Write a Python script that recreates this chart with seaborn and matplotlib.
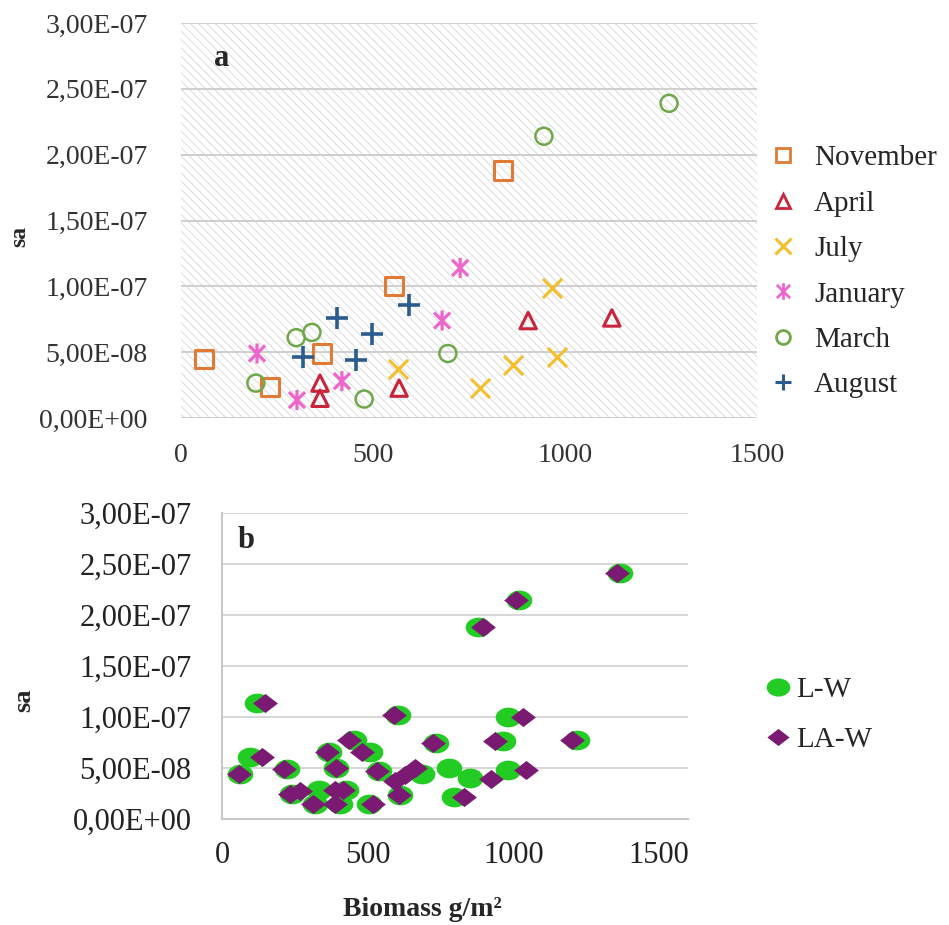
import numpy as np
import pandas as pd
import matplotlib
matplotlib.use("Agg")
import matplotlib.pyplot as plt
import seaborn as sns
from matplotlib.path import Path
from matplotlib.lines import Line2D
from matplotlib.patches import Rectangle
from matplotlib.transforms import Affine2D

# ---------------- data: panel a ----------------
months = ["November", "April", "July", "January", "March", "August"]
nov_x = [60, 232, 367, 555, 839]
nov_y = [4.47e-8, 2.35e-8, 4.9e-8, 1.0e-7, 1.88e-7]
apr_x = [362, 362, 568, 904, 1122]
apr_y = [2.65e-8, 1.5e-8, 2.27e-8, 7.4e-8, 7.6e-8]
jul_x = [565, 779, 865, 966, 979]
jul_y = [3.7e-8, 2.27e-8, 4.0e-8, 9.85e-8, 4.6e-8]
jan_x = [198, 302, 419, 680, 727]
jan_y = [4.9e-8, 1.36e-8, 2.8e-8, 7.4e-8, 1.14e-7]
mar_x = [195, 300, 341, 477, 695, 945, 1271]
mar_y = [2.65e-8, 6.1e-8, 6.5e-8, 1.44e-8, 4.9e-8, 2.14e-7, 2.39e-7]
aug_x = [318, 406, 456, 497, 594]
aug_y = [4.6e-8, 7.6e-8, 4.4e-8, 6.4e-8, 8.6e-8]

# ---------------- data: panel b ----------------
lw_x = [62, 97, 120, 222, 240, 318, 333, 368, 393, 405, 425, 452, 505, 507,
        540, 606, 611, 685, 735, 779, 796, 851, 879, 965, 982, 982, 1020,
        1219, 1366]
lw_y = [4.4e-8, 6.1e-8, 1.14e-7, 4.9e-8, 2.5e-8, 1.5e-8, 2.8e-8, 6.6e-8,
        5.0e-8, 1.5e-8, 2.8e-8, 7.7e-8, 1.5e-8, 6.6e-8, 4.7e-8, 1.02e-7,
        2.4e-8, 4.4e-8, 7.5e-8, 5.0e-8, 2.16e-8, 4.0e-8, 1.88e-7, 7.6e-8,
        1.0e-7, 4.8e-8, 2.15e-7, 7.7e-8, 2.41e-7]
law_x = [60, 137, 148, 212, 233, 268, 313, 362, 388, 388, 390, 415, 437, 481,
         518, 533, 591, 594, 608, 628, 663, 725, 830, 896, 925, 937, 1009,
         1033, 1044, 1202, 1356]
law_y = [4.4e-8, 6.1e-8, 1.14e-7, 4.9e-8, 2.5e-8, 2.7e-8, 1.5e-8, 6.6e-8,
         2.8e-8, 1.47e-8, 5.0e-8, 2.85e-8, 7.7e-8, 6.6e-8, 1.5e-8, 4.7e-8,
         1.02e-7, 3.7e-8, 2.4e-8, 4.3e-8, 5.0e-8, 7.5e-8, 2.16e-8, 1.88e-7,
         3.9e-8, 7.6e-8, 2.15e-7, 1.0e-7, 4.8e-8, 7.7e-8, 2.41e-7]

y_ticks = [0, 5e-8, 1e-7, 1.5e-7, 2e-7, 2.5e-7, 3e-7]
y_ticklabels = ["0,00E+00", "5,00E-08", "1,00E-07", "1,50E-07",
                "2,00E-07", "2,50E-07", "3,00E-07"]
x_ticks = [0, 500, 1000, 1500]
x_ticklabels = ["0", "500", "1000", "1500"]

# ---------------- style ----------------
sns.set_style("white")
plt.rcParams["font.family"] = ["Liberation Serif", "DejaVu Serif"]
plt.rcParams["hatch.linewidth"] = 0.6

fig = plt.figure(figsize=(9.49, 9.25), dpi=100)
W, H = 949, 925


def axes_px(l, t, r, b):
    return fig.add_axes([l / W, 1 - b / H, (r - l) / W, (b - t) / H])


ax_a = axes_px(181, 23, 757, 418)
ax_b = axes_px(222, 513, 688, 819)

# ---------------- markers ----------------
ast_path = Path([(-1, -1), (1, 1), (-1, 1), (1, -1), (0, -1.25), (0, 1.25)],
                [Path.MOVETO, Path.LINETO, Path.MOVETO, Path.LINETO,
                 Path.MOVETO, Path.LINETO])
ell_path = Path.unit_circle().transformed(Affine2D().scale(1.3, 1.0))
dia_path = Path([(-1.3, 0), (0, 1), (1.3, 0), (0, -1), (-1.3, 0)],
                [Path.MOVETO, Path.LINETO, Path.LINETO, Path.LINETO,
                 Path.CLOSEPOLY])

colors = {"November": "#E07A35", "April": "#C9243A", "July": "#F5BE2A",
          "January": "#EE66CC", "March": "#6FA84A", "August": "#2B5C8E"}
xs = {"November": nov_x, "April": apr_x, "July": jul_x, "January": jan_x,
      "March": mar_x, "August": aug_x}
ys = {"November": nov_y, "April": apr_y, "July": jul_y, "January": jan_y,
      "March": mar_y, "August": aug_y}
mk = {"November": ("s", 170, True, 2.2), "April": ("^", 140, True, 2.2),
      "July": ("x", 190, False, 2.2), "January": (ast_path, 210, True, 2.3),
      "March": ("o", 150, True, 1.8), "August": ("+", 230, False, 2.6)}

# ---------------- panel a ----------------
ax_a.set_facecolor("white")
ax_a.add_patch(Rectangle((0, 0), 1, 1, transform=ax_a.transAxes,
                         facecolor="white", edgecolor="#d6d6d6",
                         hatch="\\\\\\\\", lw=0, zorder=0))
for m in months:
    df = pd.DataFrame({"x": xs[m], "y": ys[m]})
    marker, s, hollow, lw = mk[m]
    if hollow:
        sns.scatterplot(data=df, x="x", y="y", ax=ax_a, marker=marker, s=s,
                        facecolor="none", edgecolor=colors[m], linewidth=lw,
                        zorder=3)
    else:
        sns.scatterplot(data=df, x="x", y="y", ax=ax_a, marker=marker, s=s,
                        color=colors[m], linewidth=lw, zorder=3)

ax_a.set_xlim(0, 1500)
ax_a.set_ylim(0, 3e-7)
ax_a.set_xticks(x_ticks)
ax_a.set_xticklabels(x_ticklabels)
ax_a.set_yticks(y_ticks)
ax_a.set_yticklabels(y_ticklabels)
ax_a.tick_params(axis="both", length=0, labelsize=20, colors="#333333")
ax_a.tick_params(axis="y", pad=24)
ax_a.tick_params(axis="x", pad=18)
ax_a.grid(axis="y", color="#cfcfcf", lw=1.4, zorder=1)
ax_a.set_axisbelow(True)
for sp in ax_a.spines.values():
    sp.set_visible(False)
ax_a.set_xlabel("")
ax_a.set_ylabel("")
fig.text(222 / W, 1 - 58 / H, "a", fontsize=22, fontweight="bold",
         ha="center", va="center")
fig.text(20 / W, 1 - 236 / H, "sa", rotation=90, fontsize=17,
         fontweight="bold", ha="center", va="center")

handles_a = []
for m in months:
    marker, s, hollow, lw = mk[m]
    if hollow:
        ms = 12 if m == "January" else 10
        h = Line2D([], [], marker=marker, linestyle="none",
                   markerfacecolor="none", markeredgecolor=colors[m],
                   markersize=ms, markeredgewidth=2)
    else:
        h = Line2D([], [], marker=marker, linestyle="none",
                   color=colors[m], markersize=11, markeredgewidth=2.2)
    handles_a.append(h)
ax_a.legend(handles_a, months, loc="upper left",
            bbox_to_anchor=(769 / W, 1 - 145 / H),
            bbox_transform=fig.transFigure, frameon=False, fontsize=21,
            handlelength=0.95, handletextpad=0.6, labelspacing=0.65,
            borderpad=0, borderaxespad=0)

# ---------------- panel b ----------------
df_lw = pd.DataFrame({"x": lw_x, "y": lw_y})
df_law = pd.DataFrame({"x": law_x, "y": law_y})
sns.scatterplot(data=df_lw, x="x", y="y", ax=ax_b, marker=ell_path, s=340,
                color="#22CC22", linewidth=0, zorder=3)
sns.scatterplot(data=df_law, x="x", y="y", ax=ax_b, marker=dia_path, s=320,
                color="#7A1A72", linewidth=0, zorder=4)
ax_b.set_xlim(0, 1600)
ax_b.set_ylim(0, 3e-7)
ax_b.set_xticks(x_ticks)
ax_b.set_xticklabels(x_ticklabels)
ax_b.set_yticks(y_ticks)
ax_b.set_yticklabels(y_ticklabels)
ax_b.tick_params(axis="both", length=0, labelsize=22, colors="#222222")
ax_b.tick_params(axis="y", pad=22)
ax_b.tick_params(axis="x", pad=16)
ax_b.grid(axis="y", color="#d6d6d6", lw=1.4, zorder=1)
ax_b.set_axisbelow(True)
for k, sp in ax_b.spines.items():
    if k in ("left", "bottom"):
        sp.set_color("#c8c8c8")
        sp.set_linewidth(1.5)
    else:
        sp.set_visible(False)
ax_b.set_xlabel("")
ax_b.set_ylabel("")
fig.text(246 / W, 1 - 540 / H, "b", fontsize=22, fontweight="bold",
         ha="center", va="center")
fig.text(24 / W, 1 - 700 / H, "sa", rotation=90, fontsize=19,
         fontweight="bold", ha="center", va="center")
fig.text(422 / W, 1 - 910 / H, "Biomass g/m²", fontsize=20,
         fontweight="bold", ha="center", va="center")

handles_b = [Line2D([], [], marker=ell_path, linestyle="none", color="#22CC22",
                    markersize=17, markeredgewidth=0),
             Line2D([], [], marker=dia_path, linestyle="none", color="#7A1A72",
                    markersize=16, markeredgewidth=0)]
ax_b.legend(handles_b, ["L-W", "LA-W"], loc="upper left",
            bbox_to_anchor=(763 / W, 1 - 677 / H),
            bbox_transform=fig.transFigure, frameon=False, fontsize=21,
            handlelength=1.0, handletextpad=0.15, labelspacing=0.8,
            borderpad=0, borderaxespad=0)

fig.savefig("out.png", dpi=100)
